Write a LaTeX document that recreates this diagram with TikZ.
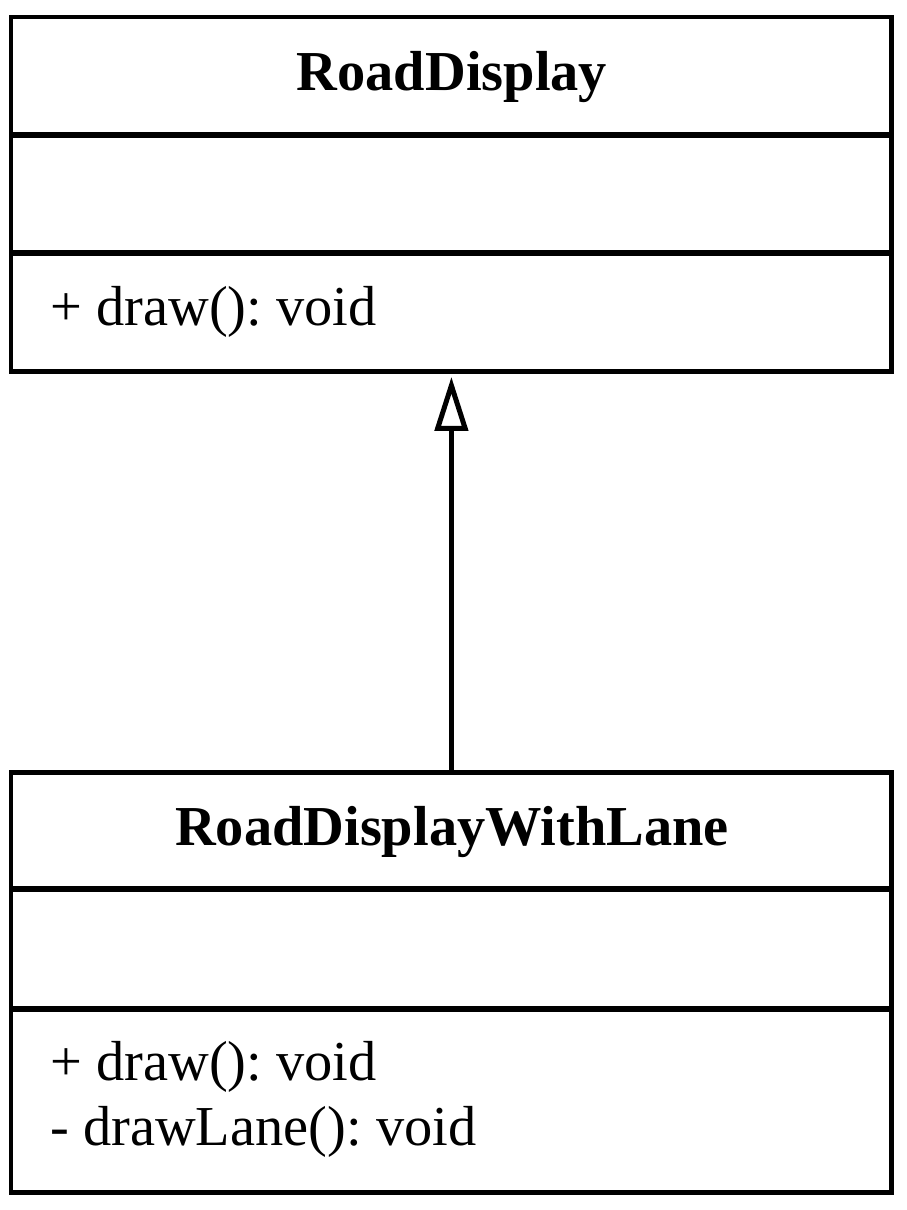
\documentclass[tikz,border=0pt]{standalone}
\usepackage{fontspec}
\setmainfont{Liberation Serif}
\usetikzlibrary{arrows.meta}
\frenchspacing
\begin{document}
\begin{tikzpicture}[x=0.02cm,y=-0.02cm,
case/.style={draw,line width=0.1cm,anchor=north west,inner sep=0pt,outer sep=0pt,minimum width=17.62cm},
texte/.style={font=\fontsize{32.1}{38}\selectfont,inner sep=0pt},
herite/.style={-{Triangle[open,length=1.08cm,width=0.66cm]},line width=0.1cm}]
\useasboundingbox (0,0) rectangle (906,1210);
% classe mere
\node[case,minimum height=2.36cm] (nomMere) at (11,17) {};
\node[case,minimum height=2.36cm] (attrMere) at (11,135) {};
\node[case,minimum height=2.38cm] (opsMere) at (11,253) {};
\node[texte,anchor=base] (titreMere) at (452,90) {\bfseries RoadDisplay};
\node[texte,anchor=base west] (drawMere) at (50,325) {+ draw(): void};
% classe fille
\node[case,minimum height=2.34cm] (nomFille) at (11,772) {};
\node[case,minimum height=2.40cm] (attrFille) at (11,889) {};
\node[case,minimum height=3.68cm] (opsFille) at (11,1009) {};
\node[texte,anchor=base] (titreFille) at (452,845) {\bfseries RoadDisplayWithLane};
\node[texte,anchor=base west] (drawFille) at (50,1080) {+ draw(): void};
\node[texte,anchor=base west] (laneFille) at (50,1145) {- drawLane(): void};
\draw[herite] (nomFille.north) -- ([yshift=-0.1cm]opsMere.south);
\end{tikzpicture}
\end{document}
